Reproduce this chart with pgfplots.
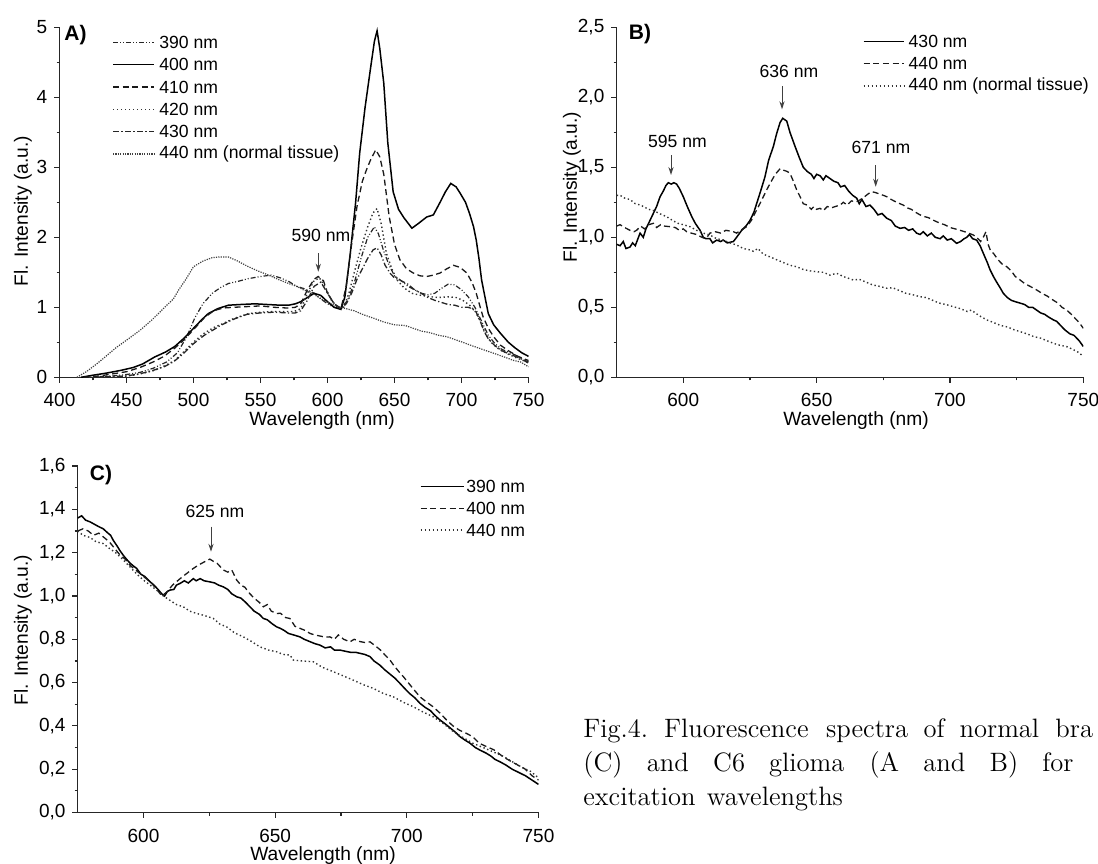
\documentclass[border=0pt]{standalone}
\usepackage{fontspec}
\setsansfont{Liberation Sans}
\renewcommand{\familydefault}{\sfdefault}
\usepackage{pgfplots}
\pgfplotsset{compat=1.18}
\usetikzlibrary{arrows.meta}

\pgfplotsset{
  panel/.style={
    scale only axis,
    anchor=south west,
    axis x line=bottom,
    axis y line=left,
    axis line style={line width=0.7pt, black!85, -},
    tick align=outside,
    major tick length=2.6pt,
    minor tick length=1.5pt,
    every tick/.style={line width=0.6pt, black!85},
    tick label style={font=\sffamily\fontsize{9.5}{11}\selectfont},
    xticklabel style={yshift=-2pt},
    /pgf/number format/assume math mode=true,
    xlabel={}, ylabel={},
  },
  commay/.style={yticklabel style={/pgf/number format/.cd, fixed, fixed zerofill, precision=1, use comma, assume math mode=true}},
}
\tikzset{
  sA390/.style={line width=0.6pt, black!85, dash pattern=on 2.5pt off 1pt on 0.5pt off 1pt on 0.5pt off 1pt},
  sSolid/.style={line width=0.75pt, black},
  sDash/.style={line width=0.65pt, black!90, dash pattern=on 3pt off 1.8pt},
  sDot/.style={line width=0.7pt, black!80, dash pattern=on 0.7pt off 1.3pt},
  sDashDot/.style={line width=0.65pt, black!85, dash pattern=on 3pt off 1.2pt on 0.6pt off 1.2pt},
  sNorm/.style={line width=0.6pt, black!75, dash pattern=on 0.6pt off 0.6pt},
  annarr/.style={line width=0.5pt, black!75, -{Stealth[length=4pt,width=2.6pt]}},
}

\newcommand{\legfont}{\sffamily\fontsize{8.8}{10}\selectfont}
\newcommand{\labfont}{\sffamily\fontsize{9.6}{11}\selectfont}

\begin{document}
\begin{tikzpicture}
\path[use as bounding box] (0pt,0pt) rectangle (549pt,-431.5pt);

% ================= Panel A =================
\begin{axis}[panel, at={(29.75pt,-188.65pt)}, width=234.5pt, height=175pt,
  xmin=400, xmax=750, ymin=0, ymax=5,
  xtick={400,450,...,750}, minor x tick num=1,
  ytick={0,1,2,3,4,5}, minor y tick num=1]
% 390 nm
\addplot[sA390] coordinates {
(420,0) (430,0.01) (440,0.02) (450,0.04) (460,0.07) (470,0.13) (480,0.22) (488,0.35) (495,0.58) (501,0.85) (507,1.05) (514,1.2) (520,1.28) (526,1.34) (533,1.37) (541,1.41) (550,1.44) (558,1.46) (565,1.42) (571,1.37) (577,1.3) (582,1.27) (587,1.23) (590,1.2) (595,1.12) (600,1.05) (605,1.0) (610,0.98) (615,1.1) (620,1.35) (625,1.7) (630,2.0) (635,2.15) (638,2.05) (642,1.8) (646,1.6) (650,1.45) (655,1.38) (660,1.3) (665,1.25) (670,1.2) (675,1.18) (680,1.2) (685,1.27) (690,1.33) (695,1.32) (700,1.25) (705,1.15) (710,1.0) (715,0.8) (720,0.6) (725,0.48) (730,0.4) (740,0.32) (750,0.2)};
% 400 nm
\addplot[sSolid] coordinates {
(416,0) (425,0.03) (435,0.06) (446,0.1) (455,0.14) (462,0.19) (471,0.29) (479,0.36) (486,0.44) (493,0.56) (501,0.72) (506,0.82) (511,0.91) (518,0.98) (526,1.03) (535,1.04) (546,1.05) (555,1.04) (565,1.03) (571,1.03) (576,1.05) (580,1.08) (585,1.14) (590,1.2) (595,1.17) (600,1.08) (605,1.0) (610,0.97) (613,1.15) (617,1.77) (621,2.5) (624,3.2) (628,3.85) (632,4.4) (635,4.8) (637,4.95) (639,4.7) (642,4.2) (645,3.35) (649,2.65) (653,2.4) (657,2.28) (663,2.13) (668,2.2) (674,2.29) (679,2.32) (684,2.5) (688,2.65) (692,2.77) (696,2.72) (699,2.63) (703,2.5) (706,2.34) (709,2.15) (711,1.96) (713,1.7) (715,1.39) (718,1.1) (720,0.91) (724,0.75) (729,0.63) (735,0.5) (740,0.42) (745,0.35) (750,0.3)};
% 410 nm
\addplot[sDash] coordinates {
(418,0) (430,0.02) (440,0.05) (450,0.08) (460,0.14) (470,0.22) (478,0.3) (485,0.4) (492,0.52) (500,0.68) (508,0.85) (515,0.95) (522,0.99) (530,1.0) (540,1.01) (550,1.02) (560,1.0) (570,0.99) (576,1.0) (580,1.05) (585,1.25) (590,1.4) (593,1.44) (597,1.38) (600,1.2) (605,1.05) (610,0.98) (614,1.3) (618,1.9) (622,2.44) (626,2.8) (629,2.96) (632,3.1) (636,3.25) (639,3.15) (642,2.9) (646,2.3) (650,1.9) (654,1.68) (659,1.55) (664,1.49) (669,1.45) (674,1.44) (679,1.46) (684,1.49) (689,1.55) (694,1.6) (699,1.57) (704,1.49) (708,1.35) (711,1.2) (714,1.0) (716,0.87) (720,0.7) (724,0.58) (729,0.46) (735,0.38) (742,0.3) (750,0.24)};
% 420 nm
\addplot[sDot] coordinates {
(422,0) (435,0.0) (446,0.01) (455,0.03) (463,0.06) (471,0.1) (478,0.16) (486,0.24) (493,0.37) (501,0.52) (508,0.63) (515,0.71) (521,0.76) (530,0.84) (541,0.91) (550,0.93) (558,0.94) (567,0.94) (575,0.94) (580,0.98) (585,1.2) (590,1.38) (594,1.42) (598,1.3) (603,1.1) (608,0.99) (612,1.0) (616,1.2) (620,1.5) (625,1.85) (630,2.15) (634,2.35) (637,2.41) (640,2.2) (644,1.77) (648,1.55) (652,1.39) (657,1.28) (663,1.2) (670,1.17) (677,1.15) (683,1.14) (690,1.15) (696,1.14) (701,1.1) (706,1.03) (710,0.95) (714,0.8) (718,0.62) (722,0.5) (728,0.4) (735,0.33) (742,0.27) (750,0.21)};
% 430 nm
\addplot[sDashDot] coordinates {
(425,0) (440,0.01) (450,0.02) (460,0.05) (470,0.1) (478,0.15) (485,0.22) (492,0.33) (500,0.48) (508,0.6) (515,0.68) (520,0.74) (530,0.83) (540,0.9) (550,0.92) (560,0.93) (570,0.92) (576,0.92) (580,0.95) (585,1.1) (590,1.3) (595,1.36) (600,1.2) (605,1.05) (610,0.98) (614,1.05) (618,1.2) (622,1.4) (626,1.55) (630,1.7) (634,1.82) (637,1.85) (640,1.75) (643,1.6) (647,1.48) (650,1.42) (655,1.38) (660,1.33) (665,1.25) (670,1.2) (675,1.14) (680,1.1) (685,1.07) (690,1.04) (695,1.03) (700,1.0) (705,1.0) (708,0.98) (711,0.93) (714,0.8) (717,0.65) (720,0.55) (725,0.45) (730,0.38) (740,0.3) (750,0.22)};
% 440 nm normal tissue
\addplot[sNorm] coordinates {
(413,0) (420,0.08) (427,0.18) (434,0.29) (442,0.42) (450,0.53) (460,0.67) (469,0.82) (479,1.01) (485,1.12) (489,1.25) (495,1.42) (500,1.58) (507,1.66) (514,1.71) (520,1.72) (526,1.72) (533,1.66) (541,1.58) (548,1.52) (556,1.46) (563,1.4) (571,1.34) (577,1.3) (582,1.25) (587,1.22) (592,1.16) (597,1.1) (602,1.06) (607,1.02) (612,0.99) (620,0.95) (626,0.9) (635,0.84) (642,0.79) (650,0.75) (658,0.74) (664,0.7) (670,0.66) (676,0.64) (683,0.6) (689,0.58) (695,0.54) (701,0.5) (708,0.45) (714,0.41) (720,0.37) (726,0.33) (732,0.29) (739,0.24) (744,0.22) (750,0.15)};
\end{axis}

% ================= Panel B =================
\begin{axis}[panel, commay, at={(308.3pt,-188.65pt)}, width=233.35pt, height=175pt,
  xmin=575, xmax=750, ymin=0, ymax=2.5,
  xtick={600,650,700,750}, minor xtick={625,675,725},
  ytick={0,0.5,...,2.5}, minor y tick num=1]
\addplot[sSolid] coordinates {
(575,0.95) (576.3,0.94) (577.5,0.97) (578.5,0.92) (580,0.93) (581,0.96) (582,0.94) (583.8,1.03) (585,1.0) (586,1.06) (587.5,1.12) (589,1.18) (590,1.22) (591.3,1.29) (592.5,1.33) (593.5,1.37) (594.4,1.39) (595.5,1.38) (596.5,1.39) (597.5,1.38) (598.5,1.35) (600,1.29) (601.5,1.22) (603.2,1.147) (604.5,1.1) (606.3,1.05) (607.5,1.0) (608.5,0.99) (610,0.99) (611,0.96) (612.5,0.98) (614,0.97) (615,0.98) (616.5,0.96) (618.8,0.97) (620,1.0) (621.9,1.05) (623.5,1.08) (625,1.12) (626.5,1.18) (627.5,1.24) (629,1.33) (630.6,1.43) (632,1.55) (633.8,1.65) (635,1.74) (636.3,1.82) (637.3,1.85) (638.8,1.83) (640,1.75) (641.9,1.65) (643.5,1.57) (645,1.5) (646.5,1.47) (648,1.45) (649,1.42) (650,1.45) (651.3,1.44) (652.5,1.41) (653.5,1.44) (655,1.42) (656.5,1.40) (658,1.39) (659,1.36) (660.5,1.37) (662,1.33) (663.5,1.30) (665,1.28) (666,1.24) (667,1.27) (668.5,1.22) (670,1.23) (671.5,1.2) (673,1.16) (674.5,1.17) (676.3,1.136) (678,1.12) (679.5,1.08) (681.3,1.064) (683,1.07) (684.5,1.05) (686,1.06) (687.5,1.03) (688.8,1.02) (690,1.04) (691.5,1.01) (693,1.03) (694.5,1.0) (696.3,0.99) (697.5,1.01) (699,0.98) (700.5,0.99) (702.5,0.957) (704,0.97) (705.3,0.99) (706.3,1.0) (707.3,1.02) (708.5,0.99) (710,0.98) (711.3,0.94) (712.5,0.886) (714,0.82) (715,0.77) (716.3,0.72) (717.5,0.68) (718.8,0.64) (720,0.6) (721.5,0.57) (723,0.55) (724.5,0.54) (726.3,0.53) (728,0.52) (729.5,0.5) (731,0.5) (732.5,0.48) (734,0.46) (735.5,0.45) (737,0.43) (738.8,0.41) (740,0.40) (741.5,0.37) (743,0.34) (745,0.31) (746.5,0.3) (747.5,0.28) (748.5,0.26) (750,0.22)};
\addplot[sDash] coordinates {
(575,1.08) (576.3,1.09) (578,1.07) (580,1.05) (581.5,1.04) (582.5,1.05) (584,1.08) (585.5,1.06) (587,1.09) (588.8,1.1) (590,1.07) (591.5,1.09) (593,1.08) (595,1.076) (597,1.07) (598.5,1.05) (600,1.06) (601.3,1.04) (603,1.03) (605,1.02) (607,1.0) (608.5,0.99) (610,1.03) (612,1.04) (614,1.03) (616,1.05) (618.8,1.04) (620,1.03) (621.5,1.05) (623.8,1.076) (625.5,1.12) (627.5,1.195) (629,1.25) (631.3,1.34) (633,1.4) (634.5,1.45) (636.3,1.49) (637.5,1.48) (639,1.47) (640,1.457) (641.3,1.4) (642.5,1.34) (643.8,1.29) (645,1.24) (646.5,1.23) (648,1.2) (649,1.22) (650,1.2) (651.3,1.207) (652.5,1.19) (654,1.22) (655.5,1.21) (657,1.22) (658.8,1.23) (660,1.25) (661.5,1.23) (663,1.26) (665,1.254) (666.5,1.27) (668,1.29) (669.3,1.31) (670.6,1.326) (672,1.32) (673.5,1.31) (675,1.3) (676.3,1.29) (678,1.27) (680,1.25) (682.5,1.23) (684,1.21) (685.5,1.2) (687,1.18) (688.8,1.16) (690,1.15) (692,1.14) (694,1.12) (696.3,1.1) (698,1.09) (700,1.07) (702,1.06) (703.8,1.05) (705.5,1.04) (707,1.03) (708.8,1.016) (710,1.0) (711.5,0.97) (712.5,1.0) (713.5,1.04) (714.3,0.95) (715.3,0.9) (716.3,0.886) (718,0.84) (719.5,0.81) (721.3,0.79) (723,0.76) (724.5,0.72) (726.3,0.695) (728,0.67) (730,0.65) (732.5,0.624) (734.5,0.6) (736.5,0.58) (738.8,0.55) (740.5,0.53) (742,0.5) (743.8,0.48) (745.5,0.45) (747,0.42) (748.5,0.39) (750,0.35)};
\addplot[sDot] coordinates {
(575,1.3) (576.3,1.3) (578,1.28) (580,1.27) (582,1.24) (584,1.23) (585,1.22) (587,1.2) (589,1.19) (591,1.17) (593.8,1.147) (596,1.12) (598,1.1) (600,1.09) (602.5,1.076) (605,1.05) (607.5,1.03) (610,1.016) (612.5,0.99) (615,0.98) (617.5,0.96) (620,0.945) (622.5,0.92) (625,0.91) (626.3,0.9) (628,0.92) (630,0.88) (632.5,0.86) (635,0.84) (637.5,0.82) (640,0.8) (642.5,0.79) (645,0.77) (647.5,0.76) (650,0.754) (652.5,0.75) (655,0.73) (657.5,0.743) (660,0.72) (663.8,0.695) (666,0.7) (668.5,0.68) (671,0.66) (673.5,0.65) (676.3,0.636) (678.5,0.64) (681,0.62) (683.5,0.6) (686,0.59) (688.8,0.576) (691,0.57) (693.5,0.55) (696,0.53) (698.5,0.52) (701.3,0.504) (704,0.49) (706.5,0.47) (708,0.48) (711,0.44) (713.8,0.41) (716.5,0.39) (719,0.37) (721.5,0.36) (724,0.34) (726.3,0.326) (729,0.31) (731.5,0.29) (734,0.28) (736.5,0.26) (738.8,0.243) (741,0.23) (743.8,0.219) (746,0.2) (748,0.18) (750,0.15)};
\end{axis}

% ================= Panel C =================
\begin{axis}[panel, commay, at={(38.85pt,-406.25pt)}, width=230.4pt, height=173.25pt,
  xmin=575, xmax=750, ymin=0, ymax=1.6,
  xtick={600,650,700,750}, minor xtick={625,675,725},
  ytick={0,0.2,...,1.6}, minor y tick num=1]
\addplot[sSolid] coordinates {
(575,1.36) (576.5,1.37) (578,1.35) (579.7,1.342) (581.5,1.33) (583,1.32) (584.7,1.31) (586.5,1.29) (587.5,1.28) (588.5,1.257) (590,1.23) (591,1.21) (592.3,1.188) (593.5,1.17) (595,1.15) (596,1.14) (597.4,1.127) (599,1.1) (600.5,1.09) (602.5,1.065) (604,1.05) (605.5,1.03) (606.9,1.01) (608,1.0) (609,1.02) (610,1.027) (611.5,1.03) (612.5,1.05) (613.9,1.058) (615.5,1.07) (617,1.06) (618.9,1.08) (620,1.07) (621.5,1.08) (623,1.07) (625.2,1.065) (627,1.06) (628.5,1.05) (630.3,1.042) (632,1.03) (633.5,1.01) (635.4,0.996) (637,0.99) (638.8,0.97) (640.4,0.95) (642,0.93) (644,0.915) (645.5,0.896) (647,0.89) (649,0.87) (650.6,0.857) (652,0.85) (653.5,0.84) (655,0.827) (657,0.82) (659.4,0.811) (661,0.8) (663,0.79) (665,0.78) (667,0.773) (669,0.76) (671,0.765) (672.5,0.75) (674.6,0.75) (676.5,0.745) (678.5,0.74) (680.5,0.74) (682.2,0.735) (684,0.73) (686,0.72) (687.5,0.7) (689.8,0.68) (691.5,0.66) (693.5,0.64) (695.5,0.62) (697.4,0.596) (699,0.575) (701,0.55) (703,0.53) (705,0.504) (707,0.485) (709,0.47) (710.5,0.45) (712.6,0.427) (714.5,0.41) (716.5,0.39) (718.5,0.37) (720.2,0.35) (722,0.335) (724,0.32) (726,0.3) (727.8,0.288) (730,0.275) (732,0.26) (733.5,0.245) (735.4,0.234) (737.5,0.22) (740,0.2) (742.5,0.185) (745,0.17) (747.5,0.15) (750,0.13)};
\addplot[sDash] coordinates {
(575,1.30) (577,1.31) (579,1.3) (581,1.28) (583,1.29) (585,1.27) (587,1.25) (589,1.22) (591,1.19) (593,1.17) (595,1.14) (597,1.12) (599,1.1) (601,1.08) (603,1.06) (605,1.03) (607,1.0) (609,1.02) (611,1.05) (613.9,1.08) (616,1.1) (618.9,1.127) (620.5,1.14) (622,1.15) (623.5,1.16) (625.2,1.17) (626.5,1.16) (628,1.15) (630.3,1.12) (632,1.11) (633.5,1.12) (635.4,1.073) (637,1.05) (638.5,1.04) (640.4,1.01) (642,0.99) (644,0.97) (645.5,0.95) (647,0.96) (648.5,0.93) (650.6,0.919) (652,0.92) (654,0.9) (655.6,0.896) (657.5,0.86) (659.5,0.85) (661.5,0.84) (663.2,0.827) (665,0.82) (667,0.815) (669,0.81) (670.8,0.811) (672.5,0.80) (674,0.82) (676,0.80) (678.4,0.788) (680,0.8) (682,0.79) (684,0.785) (686,0.788) (688,0.77) (690,0.75) (691.5,0.73) (693.6,0.704) (695,0.68) (697,0.65) (698.7,0.627) (700.5,0.6) (702.5,0.57) (705,0.534) (707.5,0.51) (710,0.488) (712.5,0.46) (715.1,0.427) (717.5,0.4) (720,0.38) (722.7,0.365) (725,0.35) (727.5,0.32) (730.3,0.304) (733,0.29) (736.6,0.257) (739,0.24) (742,0.22) (745,0.2) (747.5,0.17) (750,0.15)};
\addplot[sDot] coordinates {
(575,1.30) (577,1.28) (579.7,1.27) (582,1.25) (584.7,1.242) (587,1.22) (589.8,1.196) (592,1.17) (594.9,1.134) (597.5,1.1) (600,1.073) (602.5,1.05) (605,1.027) (607.5,1.0) (610,0.98) (612.5,0.96) (615.1,0.95) (617.5,0.93) (620.2,0.919) (623,0.91) (626.5,0.896) (629,0.87) (631.6,0.857) (634.5,0.83) (637.9,0.811) (641,0.79) (644.2,0.765) (647.5,0.75) (650.6,0.742) (653,0.73) (655.6,0.727) (656.9,0.704) (660,0.70) (664.5,0.696) (668,0.67) (672.1,0.65) (676,0.63) (679.7,0.611) (683.5,0.59) (687.3,0.573) (691,0.55) (694.9,0.534) (698.5,0.51) (702.5,0.488) (706,0.465) (710,0.442) (714,0.41) (717.7,0.373) (721.5,0.345) (725.2,0.319) (729,0.3) (732.8,0.28) (736.5,0.26) (740,0.235) (743.5,0.21) (747,0.19) (750,0.16)};
\end{axis}

% ================= Labels, legends, annotations (pixel coordinates) =================
\begin{scope}[x=0.5pt, y=-0.5pt]
% axis labels
\node[rotate=90, font=\labfont, inner sep=0pt] at (23,211) {Fl. Intensity (a.u.)};
\node[font=\labfont, inner sep=0pt] at (322,421) {Wavelength (nm)};
\node[rotate=90, font=\labfont, inner sep=0pt] at (572,187) {Fl. Intensity (a.u.)};
\node[font=\labfont, inner sep=0pt] at (856,421) {Wavelength (nm)};
\node[rotate=90, font=\labfont, inner sep=0pt] at (23,630) {Fl. Intensity (a.u.)};
\node[font=\labfont, inner sep=0pt] at (323,855.5) {Wavelength (nm)};
% panel letters
\node[font=\sffamily\bfseries\fontsize{10.5}{12}\selectfont, inner sep=0pt] at (75.5,35) {A)};
\node[font=\sffamily\bfseries\fontsize{10.5}{12}\selectfont, inner sep=0pt] at (640,34.5) {B)};
\node[font=\sffamily\bfseries\fontsize{10.5}{12}\selectfont, inner sep=0pt] at (101,475) {C)};
% legend A
\draw[sA390] (113,42.7) -- (154,42.7);
\node[anchor=west, font=\legfont, inner sep=0pt] at (159,42.7) {390 nm};
\draw[sSolid] (113,64.3) -- (154,64.3);
\node[anchor=west, font=\legfont, inner sep=0pt] at (159,64.3) {400 nm};
\draw[sDash] (113,87) -- (154,87);
\node[anchor=west, font=\legfont, inner sep=0pt] at (159,87) {410 nm};
\draw[sDot] (113,109.3) -- (154,109.3);
\node[anchor=west, font=\legfont, inner sep=0pt] at (159,109.3) {420 nm};
\draw[sDashDot] (113,131.7) -- (154,131.7);
\node[anchor=west, font=\legfont, inner sep=0pt] at (159,131.7) {430 nm};
\draw[sNorm] (113,154) -- (154,154);
\node[anchor=west, font=\legfont, inner sep=0pt] at (159,154) {440 nm (normal tissue)};
% legend B
\draw[sSolid] (863.7,41.7) -- (904,41.7);
\node[anchor=west, font=\legfont, inner sep=0pt] at (908.3,41.7) {430 nm};
\draw[sDash] (863.7,63.3) -- (904,63.3);
\node[anchor=west, font=\legfont, inner sep=0pt] at (908.3,63.3) {440 nm};
\draw[sDot] (863.7,86) -- (904,86);
\node[anchor=west, font=\legfont, inner sep=0pt] at (908.3,86) {440 nm (normal tissue)};
% legend C
\draw[sSolid] (420.7,486.7) -- (464.3,486.7);
\node[anchor=west, font=\legfont, inner sep=0pt] at (466,486.7) {390 nm};
\draw[sDash] (420.7,508.3) -- (464.3,508.3);
\node[anchor=west, font=\legfont, inner sep=0pt] at (466,508.3) {400 nm};
\draw[sDot] (420.7,530) -- (464.3,530);
\node[anchor=west, font=\legfont, inner sep=0pt] at (466,530) {440 nm};
% annotations
\node[font=\legfont, inner sep=0pt] at (321,235) {590 nm};
\draw[annarr] (318.3,253) -- (318.3,271.7);
\node[font=\legfont, inner sep=0pt] at (677.5,141.7) {595 nm};
\draw[annarr] (671,155) -- (671,175);
\node[font=\legfont, inner sep=0pt] at (789,71) {636 nm};
\draw[annarr] (782,86) -- (782,109.3);
\node[font=\legfont, inner sep=0pt] at (881,147.3) {671 nm};
\draw[annarr] (875.7,165) -- (875.7,186.7);
\node[font=\legfont, inner sep=0pt] at (215,511.7) {625 nm};
\draw[annarr] (211,526.7) -- (211,551.7);
% caption
\begin{scope}[every node/.style={anchor=base west, inner sep=0pt, font=\rmfamily\fontsize{13.3}{16}\selectfont}]
\node at (583,737) {Fig.4.};
\node at (663.7,737) {Fluorescence};
\node at (825.8,737) {spectra};
\node at (923.3,737) {of};
\node at (959.2,737) {normal};
\node at (1055,737) {bra};
\node at (583,771.5) {(C)};
\node at (646.4,771.5) {and};
\node at (712.8,771.5) {C6};
\node at (768.8,771.5) {glioma};
\node at (869.1,771.5) {(A};
\node at (922.9,771.5) {and};
\node at (989.3,771.5) {B)};
\node at (1041.9,771.5) {for};
\node at (583,805) {excitation};
\node at (706.4,805) {wavelengths};
\end{scope}
\end{scope}
\end{tikzpicture}
\end{document}
